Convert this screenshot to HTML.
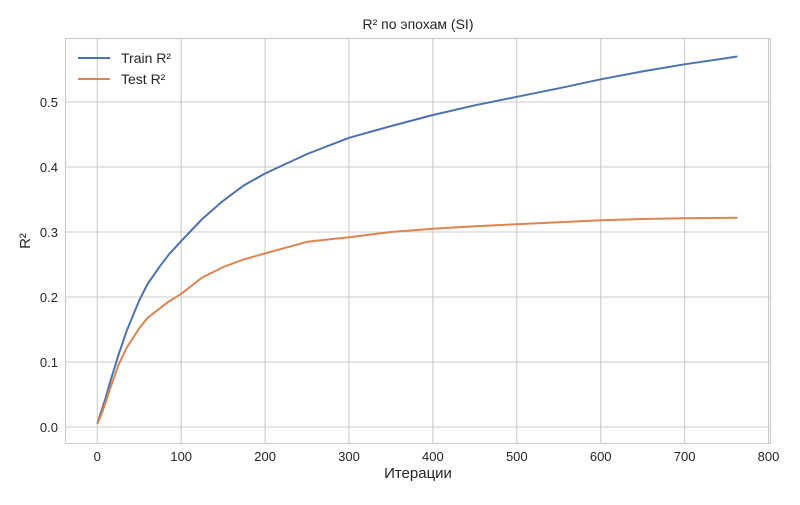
<!DOCTYPE html>
<html><head><meta charset="utf-8"><style>
body{margin:0;background:#fff;}
svg text{font-family:"Liberation Sans","DejaVu Sans",sans-serif;fill:#262626;}
</style></head><body>
<svg id="chart" width="800" height="500">
<rect x="0" y="0" width="800" height="500" fill="#fff"/>
<text x="418" y="29" font-size="14" text-anchor="middle">R² по эпохам (SI)</text>
<g id="grid"></g><g id="ticks"></g><g id="lines"></g>
<rect x="65.5" y="38.5" width="705" height="405" fill="none" stroke="#cccccc" stroke-width="1.2"/>
<text x="418" y="478" font-size="15" text-anchor="middle">Итерации</text>
<text x="30" y="241" font-size="15" text-anchor="middle" transform="rotate(-90 30 241)">R²</text>
<g>
<line x1="78" y1="58" x2="110" y2="58" stroke="#4c72b0" stroke-width="2"/>
<text x="121" y="63" font-size="14">Train R²</text>
<line x1="78" y1="79" x2="110" y2="79" stroke="#dd8452" stroke-width="2"/>
<text x="121" y="84" font-size="14">Test R²</text>
</g>
</svg>
<script>
const xTicks=[0,100,200,300,400,500,600,700,800];
const yTicks=[0.0,0.1,0.2,0.3,0.4,0.5];
const iters=[0,5,10,15,25,35,50,60,75,85,100,125,150,175,200,250,300,350,400,450,500,550,600,650,700,763];
const trainR2=[0.005,0.025,0.045,0.068,0.11,0.148,0.195,0.22,0.248,0.265,0.286,0.32,0.348,0.372,0.39,0.42,0.445,0.463,0.48,0.495,0.508,0.521,0.535,0.547,0.558,0.57];
const testR2=[0.005,0.02,0.038,0.058,0.095,0.122,0.152,0.168,0.183,0.193,0.205,0.23,0.246,0.258,0.267,0.285,0.292,0.3,0.305,0.309,0.312,0.315,0.318,0.32,0.321,0.322];
const ns='http://www.w3.org/2000/svg';
function xs(v){return 97.3+v*0.839;}
function ys(v){return 427-v*650;}
const grid=document.getElementById('grid'),ticks=document.getElementById('ticks'),lines=document.getElementById('lines');
function mk(tag,attrs,parent){const e=document.createElementNS(ns,tag);for(const k in attrs)e.setAttribute(k,attrs[k]);parent.appendChild(e);return e;}
xTicks.forEach(t=>{
  const l=mk('line',{x1:xs(t),x2:xs(t),y1:38,y2:443,stroke:'#cccccc','stroke-width':1.1},grid);
  
  
  const tx=mk('text',{x:xs(t),y:461,'font-size':13,'text-anchor':'middle'},ticks);
  tx.textContent=t;
  
  
});
yTicks.forEach(t=>{
  const l=mk('line',{x1:65,x2:771,y1:ys(t),y2:ys(t),stroke:'#cccccc','stroke-width':1.1},grid);
  
  
  const tx=mk('text',{x:58,y:ys(t)+5,'font-size':13,'text-anchor':'end'},ticks);
  tx.textContent=t.toFixed(1);
  
  
});
function path(vals,color,name){
  const d=vals.map((v,i)=>(i?'L':'M')+xs(iters[i]).toFixed(1)+','+ys(v).toFixed(1)).join(' ');
  const p=mk('path',{d:d,fill:'none',stroke:color,'stroke-width':2,'stroke-linejoin':'round'},lines);
  
  
}
path(trainR2,'#4c72b0','train-r2-line');
path(testR2,'#dd8452','test-r2-line');
</script>
</body></html>
